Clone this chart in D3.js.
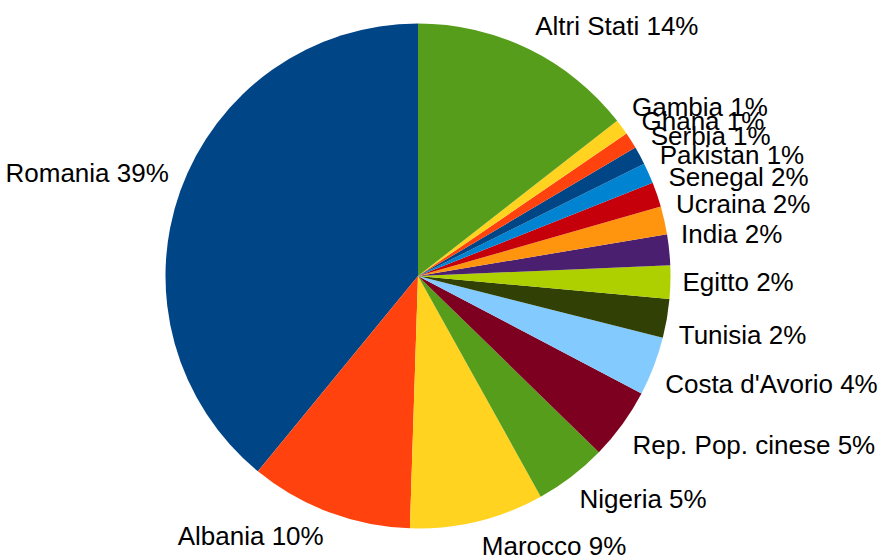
<!DOCTYPE html>
<html>
<head>
<meta charset="utf-8">
<script src="https://cdn.jsdelivr.net/npm/d3@7"></script>
<style>
    body { margin: 0; background: #fff; }
    text { font-family: "Liberation Sans", Arial, sans-serif; font-size: 26px; fill: #000; }
</style>
</head>
<body>
<div id="chart-area"></div>
<script>
// data, in the order the slices are drawn (counter-clockwise from 12 o'clock)
const countries = ['Romania', 'Albania', 'Marocco', 'Nigeria', 'Rep. Pop. cinese',
    'Costa d\'Avorio', 'Tunisia', 'Egitto', 'India', 'Ucraina', 'Senegal',
    'Pakistan', 'Serbia', 'Ghana', 'Gambia', 'Altri Stati'];
const shares = [39.07, 10.42, 8.59, 4.63, 4.59, 3.76, 2.49, 2.13, 1.96, 1.79, 1.59,
    1.32, 1.15, 1.05, 1.0, 14.46];
const palette = ['#004586', '#ff420e', '#ffd320', '#579d1c', '#7e0021', '#83caff',
    '#314004', '#aecf00', '#4b1f6f', '#ff950e', '#c5000b', '#0084d1'];

const width = 882, height = 558;
const cx = 418, cy = 276, radius = 252.5;
const labelGap = 10;

const svg = d3.select('#chart-area')
    .append('svg')
    .attr('width', width)
    .attr('height', height);

const g = svg.append('g')
    .attr('transform', 'translate(' + cx + ',' + cy + ')');

const total = d3.sum(shares);

const color = d3.scaleOrdinal()
    .domain(d3.range(countries.length))
    .range(palette);

const pie = d3.pie()
    .sort(null)
    .startAngle(0)
    .endAngle(-2 * Math.PI)
    .value(i => shares[i]);

const arc = d3.arc()
    .innerRadius(0)
    .outerRadius(radius);

const slices = pie(d3.range(countries.length));

// slices
g.selectAll('path.slice')
    .data(slices)
    .enter().append('path')
    .attr('class', 'slice')
    .attr('d', arc)
    .attr('fill', d => color(d.data));

// labels outside the pie
g.selectAll('text.label')
    .data(slices)
    .enter().append('text')
    .attr('class', 'label')
    .each(function (d) {
        const a = (d.startAngle + d.endAngle) / 2;
        const s = Math.sin(a), c = Math.cos(a);
        const r = radius + labelGap;
        let x = r * s, y = -r * c;
        let anchor = 'middle';
        if (s > 0.05) { anchor = 'start'; x += 2; }
        else if (s < -0.05) { anchor = 'end'; x -= 2; }
        let dy;
        if (c > 0.05) dy = '-0.212em';
        else if (c < -0.1) dy = '0.905em';
        else dy = '0.35em';
        d3.select(this)
            .attr('x', x)
            .attr('y', y)
            .attr('dy', dy)
            .attr('text-anchor', anchor)
            .text(countries[d.data] + ' ' + Math.round(shares[d.data] / total * 100) + '%');
    });
</script>
</body>
</html>
